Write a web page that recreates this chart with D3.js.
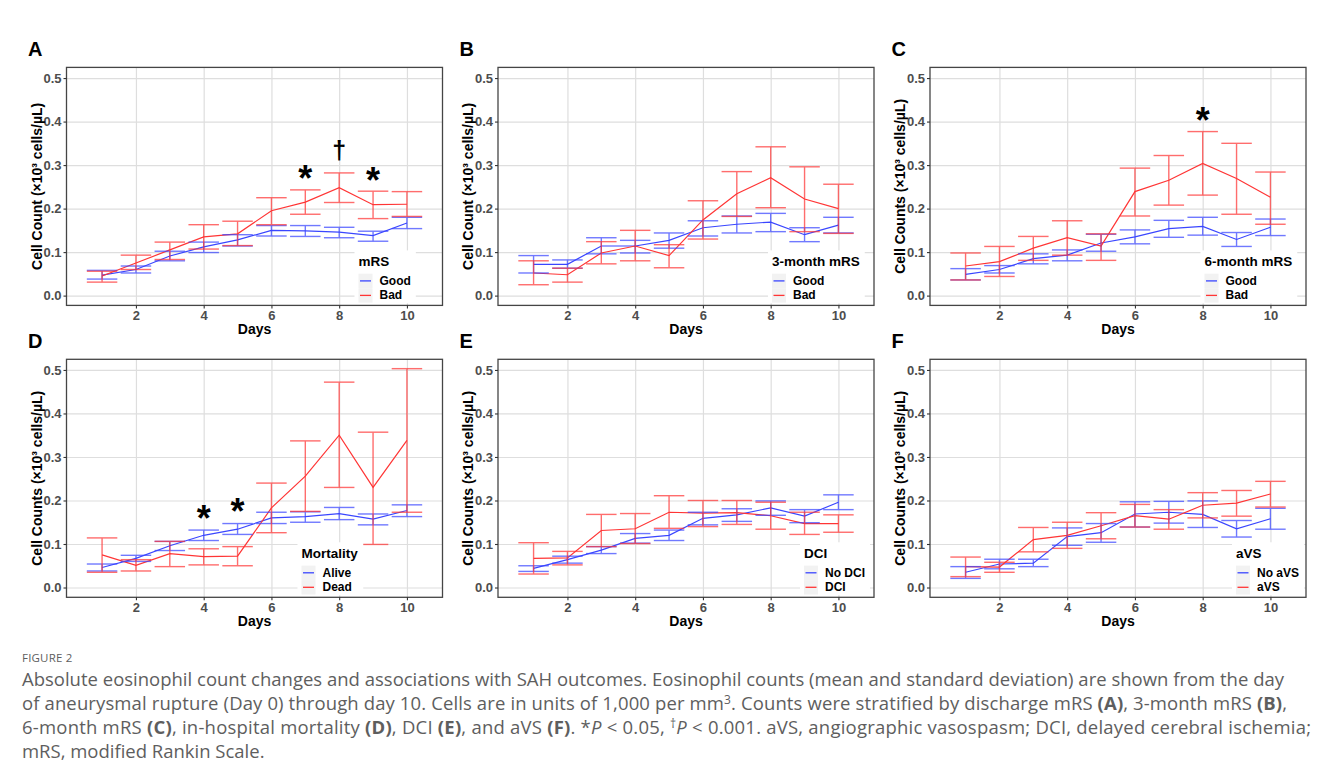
<!DOCTYPE html>
<html>
<head>
<meta charset="utf-8">
<script src="https://cdn.jsdelivr.net/npm/d3@7"></script>
<style>
  html, body { margin: 0; padding: 0; background: #ffffff; }
  svg { display: block; }
</style>
</head>
<body>
<script>
// ---------------- DATA ----------------
const days = [1, 2, 3, 4, 5, 6, 7, 8, 9, 10];
const yTicks = [0, 0.1, 0.2, 0.3, 0.4, 0.5];
const xTicks = [2, 4, 6, 8, 10];

// Panel A: discharge mRS
const A_good_mean = [0.047, 0.060, 0.091, 0.112, 0.128, 0.150, 0.149, 0.146, 0.138, 0.167];
const A_good_lo   = [0.038, 0.052, 0.080, 0.099, 0.114, 0.137, 0.136, 0.133, 0.125, 0.154];
const A_good_hi   = [0.058, 0.068, 0.102, 0.123, 0.140, 0.161, 0.161, 0.157, 0.148, 0.180];
const A_bad_mean  = [0.045, 0.075, 0.105, 0.135, 0.142, 0.195, 0.215, 0.248, 0.209, 0.210];
const A_bad_lo    = [0.031, 0.060, 0.083, 0.107, 0.115, 0.163, 0.187, 0.214, 0.177, 0.182];
const A_bad_hi    = [0.056, 0.093, 0.123, 0.163, 0.171, 0.225, 0.243, 0.282, 0.240, 0.239];

// Panel B: 3-month mRS
const B_good_mean = [0.072, 0.072, 0.114, 0.114, 0.127, 0.156, 0.164, 0.169, 0.140, 0.162];
const B_good_lo   = [0.052, 0.063, 0.096, 0.098, 0.109, 0.137, 0.144, 0.147, 0.124, 0.144];
const B_good_hi   = [0.092, 0.082, 0.133, 0.127, 0.144, 0.172, 0.183, 0.189, 0.156, 0.180];
const B_bad_mean  = [0.052, 0.048, 0.098, 0.114, 0.092, 0.174, 0.234, 0.271, 0.222, 0.200];
const B_bad_lo    = [0.025, 0.031, 0.073, 0.080, 0.064, 0.130, 0.182, 0.202, 0.147, 0.143];
const B_bad_hi    = [0.080, 0.063, 0.124, 0.150, 0.117, 0.218, 0.285, 0.342, 0.296, 0.256];

// Panel C: 6-month mRS
const C_good_mean = [0.049, 0.060, 0.085, 0.093, 0.121, 0.135, 0.154, 0.159, 0.129, 0.157];
const C_good_lo   = [0.036, 0.052, 0.073, 0.080, 0.102, 0.119, 0.134, 0.139, 0.113, 0.138];
const C_good_hi   = [0.062, 0.069, 0.096, 0.105, 0.141, 0.151, 0.173, 0.180, 0.145, 0.176];
const C_bad_mean  = [0.068, 0.078, 0.109, 0.133, 0.114, 0.239, 0.265, 0.304, 0.269, 0.226];
const C_bad_lo    = [0.036, 0.044, 0.081, 0.093, 0.081, 0.183, 0.208, 0.231, 0.187, 0.164];
const C_bad_hi    = [0.098, 0.113, 0.136, 0.172, 0.142, 0.293, 0.322, 0.377, 0.350, 0.284];

// Panel D: in-hospital mortality
const D_alive_mean = [0.046, 0.067, 0.096, 0.120, 0.134, 0.160, 0.163, 0.170, 0.157, 0.177];
const D_alive_lo   = [0.038, 0.060, 0.085, 0.108, 0.122, 0.147, 0.150, 0.156, 0.144, 0.163];
const D_alive_hi   = [0.054, 0.074, 0.106, 0.132, 0.147, 0.173, 0.174, 0.184, 0.169, 0.190];
const D_dead_mean  = [0.075, 0.051, 0.078, 0.071, 0.072, 0.183, 0.256, 0.350, 0.230, 0.338];
const D_dead_lo    = [0.035, 0.038, 0.048, 0.052, 0.050, 0.126, 0.175, 0.230, 0.099, 0.173];
const D_dead_hi    = [0.114, 0.064, 0.106, 0.089, 0.094, 0.240, 0.337, 0.472, 0.357, 0.503];

// Panel E: DCI
const E_no_mean  = [0.044, 0.064, 0.086, 0.113, 0.120, 0.159, 0.167, 0.183, 0.164, 0.196];
const E_no_lo    = [0.037, 0.056, 0.078, 0.102, 0.108, 0.144, 0.152, 0.166, 0.149, 0.179];
const E_no_hi    = [0.050, 0.072, 0.094, 0.124, 0.132, 0.173, 0.181, 0.199, 0.179, 0.213];
const E_yes_mean = [0.067, 0.068, 0.131, 0.135, 0.173, 0.171, 0.172, 0.165, 0.147, 0.147];
const E_yes_lo   = [0.031, 0.052, 0.094, 0.101, 0.136, 0.140, 0.145, 0.134, 0.122, 0.127];
const E_yes_hi   = [0.103, 0.083, 0.168, 0.170, 0.211, 0.200, 0.200, 0.196, 0.173, 0.167];

// Panel F: aVS
const F_no_mean  = [0.035, 0.054, 0.056, 0.117, 0.126, 0.169, 0.173, 0.168, 0.135, 0.158];
const F_no_lo    = [0.021, 0.043, 0.048, 0.097, 0.104, 0.139, 0.148, 0.138, 0.116, 0.134];
const F_no_hi    = [0.048, 0.065, 0.065, 0.137, 0.147, 0.197, 0.198, 0.199, 0.154, 0.182];
const F_yes_mean = [0.048, 0.047, 0.110, 0.120, 0.142, 0.165, 0.157, 0.189, 0.194, 0.215];
const F_yes_lo   = [0.025, 0.035, 0.082, 0.090, 0.112, 0.139, 0.134, 0.160, 0.164, 0.185];
const F_yes_hi   = [0.070, 0.058, 0.138, 0.150, 0.172, 0.191, 0.179, 0.218, 0.223, 0.244];

// Significance markers
const A_marks = [{day: 7, v: 0.287, s: "*"}, {day: 8, v: 0.329, s: "†"}, {day: 9, v: 0.283, s: "*"}];
const C_marks = [{day: 8, v: 0.421, s: "*"}];
const D_marks = [{day: 4, v: 0.176, s: "*"}, {day: 5, v: 0.193, s: "*"}];

const legendTitles = ["mRS", "3-month mRS", "6-month mRS", "Mortality", "DCI", "aVS"];
const groupNames = [["Good", "Bad"], ["Good", "Bad"], ["Good", "Bad"], ["Alive", "Dead"], ["No DCI", "DCI"], ["No aVS", "aVS"]];
const yTitles = ["Cell Count (×10³ cells/µL)", "Cell Count (×10³ cells/µL)", "Cell Counts (×10³ cells/µL)",
                 "Cell Counts (×10³ cells/µL)", "Cell Counts (×10³ cells/µL)", "Cell Counts (×10³ cells/µL)"];
const panelLetters = ["A", "B", "C", "D", "E", "F"];

const panelSeries = [
  [[A_good_mean, A_good_lo, A_good_hi], [A_bad_mean, A_bad_lo, A_bad_hi]],
  [[B_good_mean, B_good_lo, B_good_hi], [B_bad_mean, B_bad_lo, B_bad_hi]],
  [[C_good_mean, C_good_lo, C_good_hi], [C_bad_mean, C_bad_lo, C_bad_hi]],
  [[D_alive_mean, D_alive_lo, D_alive_hi], [D_dead_mean, D_dead_lo, D_dead_hi]],
  [[E_no_mean, E_no_lo, E_no_hi], [E_yes_mean, E_yes_lo, E_yes_hi]],
  [[F_no_mean, F_no_lo, F_no_hi], [F_yes_mean, F_yes_lo, F_yes_hi]]
];
const panelMarks = [A_marks, [], C_marks, D_marks, [], []];

// ---------------- LAYOUT / STYLE ----------------
const W = 1330, H = 780;
const FONT = "'Liberation Sans', Arial, Helvetica, sans-serif";
const colLeft = [66.5, 498, 930];
const rowTop = [67.4, 359.3];
const PW = 376, PH = 238;
const legendOffset = [292, 274, 274.5, 235, 306, 306];
const COLORS = ["#3a46ff", "#ff3535"];

const svg = d3.select("body").append("svg").attr("width", W).attr("height", H);
svg.append("rect").attr("width", W).attr("height", H).attr("fill", "#fff");

panelSeries.forEach((series, i) => {
  const left = colLeft[i % 3], top = rowTop[Math.floor(i / 3)];
  const x = d3.scaleLinear().domain([-0.05, 11.05]).range([left, left + PW]);
  const y = d3.scaleLinear().domain([-0.0225, 0.5245]).range([top + PH, top]);
  const g = svg.append("g");

  // gridlines
  g.append("g").attr("transform", `translate(0,${top + PH})`)
    .call(d3.axisBottom(x).tickValues(xTicks).tickSize(-PH).tickFormat(""))
    .call(a => a.select(".domain").remove())
    .call(a => a.selectAll("line").attr("stroke", "#dedede").attr("stroke-width", 1.2));
  g.append("g").attr("transform", `translate(${left},0)`)
    .call(d3.axisLeft(y).tickValues(yTicks).tickSize(-PW).tickFormat(""))
    .call(a => a.select(".domain").remove())
    .call(a => a.selectAll("line").attr("stroke", "#dedede").attr("stroke-width", 1.2));

  // lines
  const line = d3.line().x((d, k) => x(days[k])).y(d => y(d));
  series.forEach((s, gi) => {
    g.append("path").datum(s[0]).attr("d", line)
      .attr("fill", "none").attr("stroke", COLORS[gi]).attr("stroke-width", 1.2);
  });
  // error bars
  series.forEach((s, gi) => {
    const eb = g.append("g").attr("stroke", COLORS[gi]).attr("stroke-width", 1.4).attr("opacity", 0.72);
    days.forEach((dd, k) => {
      eb.append("line").attr("x1", x(dd)).attr("x2", x(dd)).attr("y1", y(s[1][k])).attr("y2", y(s[2][k]));
      eb.append("line").attr("x1", x(dd - 0.45)).attr("x2", x(dd + 0.45)).attr("y1", y(s[1][k])).attr("y2", y(s[1][k]));
      eb.append("line").attr("x1", x(dd - 0.45)).attr("x2", x(dd + 0.45)).attr("y1", y(s[2][k])).attr("y2", y(s[2][k]));
    });
  });

  // significance marks
  panelMarks[i].forEach(m => {
    const star = m.s === "*";
    const fs = star ? 36 : 25;
    g.append("text").attr("x", x(m.day)).attr("y", y(m.v) + (star ? 0.565 : 0.28) * fs)
      .attr("text-anchor", "middle").attr("font-family", FONT).attr("font-weight", "bold")
      .attr("font-size", fs).attr("fill", "#000").text(m.s);
  });

  // legend
  const lg = g.append("g").attr("transform", `translate(${left + legendOffset[i]},${top + PH})`);
  const bg = lg.append("rect").attr("fill", "#fff");
  lg.append("text").attr("x", 0).attr("y", -43.5).attr("dominant-baseline", "central")
    .attr("font-family", FONT).attr("font-weight", "bold").attr("font-size", 13.5).attr("fill", "#000")
    .text(legendTitles[i]);
  groupNames[i].forEach((nm, gi) => {
    const cy = gi === 0 ? -24.5 : -10;
    lg.append("rect").attr("x", 0).attr("y", cy - 7.2).attr("width", 14).attr("height", 14.4).attr("fill", "#f2f2f2");
    lg.append("line").attr("x1", 1.5).attr("x2", 12.5).attr("y1", cy).attr("y2", cy)
      .attr("stroke", COLORS[gi]).attr("stroke-width", 1.3);
    lg.append("text").attr("x", 21).attr("y", cy).attr("dominant-baseline", "central")
      .attr("font-family", FONT).attr("font-weight", "bold").attr("font-size", 12).attr("fill", "#000").text(nm);
  });
  const bb = lg.node().getBBox();
  bg.attr("x", -4).attr("y", -55).attr("width", bb.x + bb.width + 9).attr("height", 53);

  // panel border
  g.append("rect").attr("x", left).attr("y", top).attr("width", PW).attr("height", PH)
    .attr("fill", "none").attr("stroke", "#454545").attr("stroke-width", 1.3);

  // axes (ticks + labels)
  const xa = g.append("g").attr("transform", `translate(0,${top + PH})`)
    .call(d3.axisBottom(x).tickValues(xTicks).tickSize(3).tickPadding(2).tickFormat(d3.format("d")));
  const ya = g.append("g").attr("transform", `translate(${left},0)`)
    .call(d3.axisLeft(y).tickValues(yTicks).tickSize(3).tickPadding(2).tickFormat(d3.format(".1f")));
  [xa, ya].forEach(a => {
    a.select(".domain").remove();
    a.selectAll("line").attr("stroke", "#333").attr("stroke-width", 1.1);
    a.selectAll("text").attr("font-family", FONT).attr("font-weight", "bold")
      .attr("font-size", 13).attr("fill", "#4d4d4d");
  });

  // axis titles
  g.append("text").attr("x", left + PW / 2).attr("y", top + PH + 29).attr("text-anchor", "middle")
    .attr("font-family", FONT).attr("font-weight", "bold").attr("font-size", 14).attr("fill", "#000").text("Days");
  g.append("text").attr("transform", `translate(${left - 25},${top + PH / 2}) rotate(-90)`)
    .attr("text-anchor", "middle").attr("font-family", FONT).attr("font-weight", "bold")
    .attr("font-size", 14).attr("fill", "#000").text(yTitles[i]);

  // panel letter
  g.append("text").attr("x", left - 38.5).attr("y", top - 11.5 + (i >= 3 ? 0.5 : 0))
    .attr("font-family", FONT).attr("font-weight", "bold").attr("font-size", 20).attr("fill", "#000")
    .text(panelLetters[i]);
});

// ---------------- CAPTION ----------------
const CAPFONT = "'Open Sans', 'Noto Sans', sans-serif";
const CAPCOL = "#5e5e5e";
svg.append("text").attr("x", 22).attr("y", 662).attr("font-family", CAPFONT).attr("font-size", 11.5)
  .attr("fill", CAPCOL).attr("letter-spacing", 0.2).text("FIGURE 2");

const capLines = [
  {y: 686, target: 1262, segs: [["Absolute eosinophil count changes and associations with SAH outcomes. Eosinophil counts (mean and standard deviation) are shown from the day", ""]]},
  {y: 710, target: 1265, segs: [["of aneurysmal rupture (Day 0) through day 10. Cells are in units of 1,000 per mm", ""], ["3", "sup"],
      [". Counts were stratified by discharge mRS ", ""], ["(A)", "b"], [", 3-month mRS ", ""], ["(B)", "b"], [",", ""]]},
  {y: 734, target: 1289, segs: [["6-month mRS ", ""], ["(C)", "b"], [", in-hospital mortality ", ""], ["(D)", "b"], [", DCI ", ""], ["(E)", "b"],
      [", and aVS ", ""], ["(F)", "b"], [". *", ""], ["P", "i"], [" < 0.05, ", ""], ["†", "sup"], ["P", "i"],
      [" < 0.001. aVS, angiographic vasospasm; DCI, delayed cerebral ischemia;", ""]]},
  {y: 758, target: null, segs: [["mRS, modified Rankin Scale.", ""]]}
];
const texts = capLines.map(L => {
  const t = svg.append("text").attr("x", 22).attr("y", L.y).attr("font-family", CAPFONT)
    .attr("font-size", 16).attr("fill", CAPCOL);
  let shifted = false;
  L.segs.forEach(([s, st]) => {
    const ts = t.append("tspan").text(s);
    if (st === "b") ts.attr("font-weight", "bold");
    if (st === "i") ts.attr("font-style", "italic");
    if (st === "sup") { ts.attr("font-size", "0.65em").attr("dy", "-0.5em"); shifted = true; }
    else if (shifted) { ts.attr("dy", `${0.5 * 0.65}em`); shifted = false; }
  });
  return t;
});
// scale font so line 1 fits its target width, then fine-tune with textLength
const w0 = texts[0].node().getComputedTextLength();
let capFS = Math.max(14, Math.min(19, 16 * 1262 / w0));
texts.forEach((t, k) => {
  t.attr("font-size", capFS);
  if (capLines[k].target) t.attr("textLength", capLines[k].target).attr("lengthAdjust", "spacing");
});
</script>
</body>
</html>
